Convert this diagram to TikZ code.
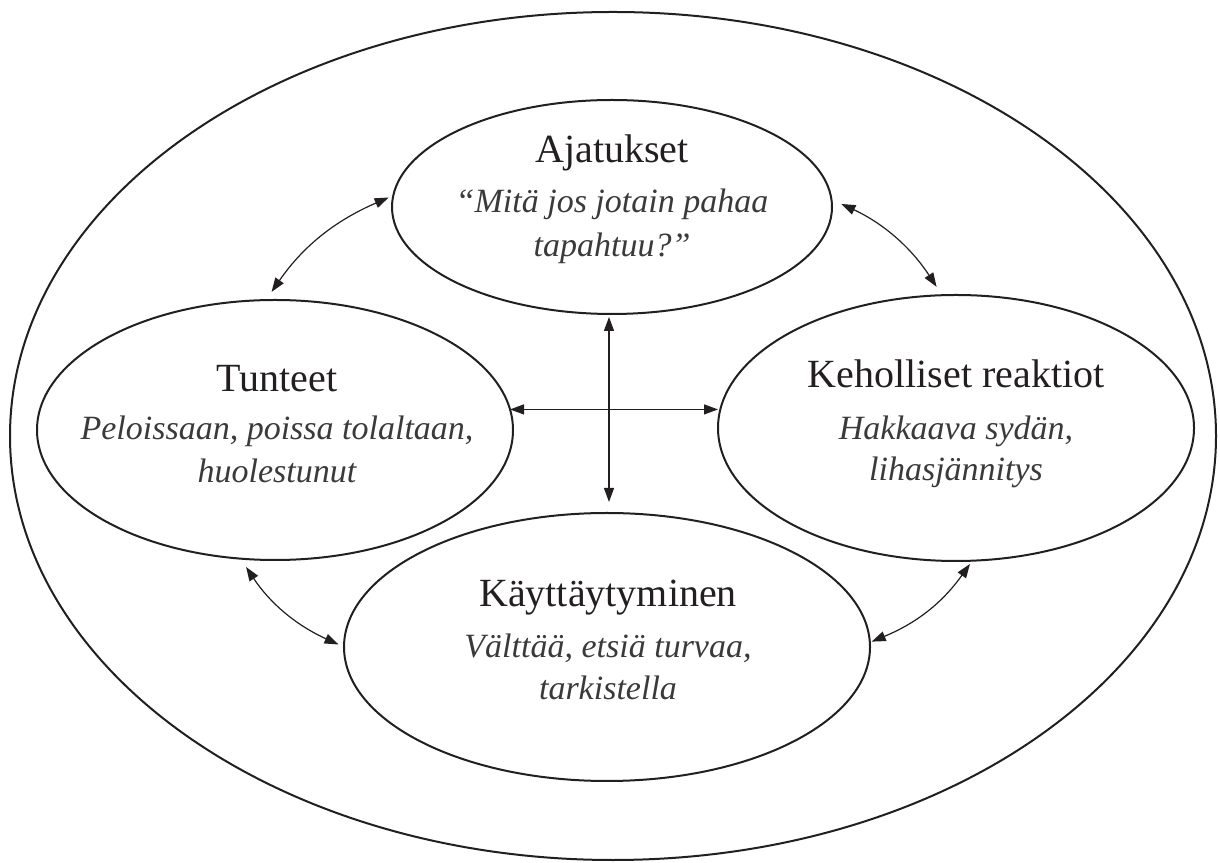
\documentclass[tikz,border=0pt]{standalone}
\usepackage{fontspec}
\setmainfont{Liberation Serif}
\usetikzlibrary{shapes.geometric,arrows.meta}
\definecolor{ink}{HTML}{231F20}
\definecolor{softink}{HTML}{3A3A3A}
\tikzset{
  ring/.style={ellipse, draw=ink, line width=2pt, inner sep=0pt, outer sep=0pt},
  heading/.style={anchor=base, font=\fontsize{40}{46}\selectfont, text=ink},
  note/.style={anchor=base, font=\fontsize{34}{40}\selectfont\itshape, text=softink},
  link/.style={draw=ink, line width=1.2pt,
    {Triangle[length=14pt,width=10pt]}-{Triangle[length=14pt,width=10pt]}},
}
\begin{document}
\begin{tikzpicture}[x=1pt,y=1pt]
\useasboundingbox (0,0) rectangle (1220,862);

% outer boundary and the four areas
\node[ring, minimum width=1206, minimum height=848] (outer) at (613,426) {};
\node[ring, minimum width=440, minimum height=214] (ajat) at (612,655) {};
\node[ring, minimum width=476, minimum height=260] (tunt) at (275,432) {};
\node[ring, minimum width=476, minimum height=266] (keh)  at (956,434) {};
\node[ring, minimum width=526, minimum height=268] (kayt) at (607,215) {};

% texts
\node[heading] (ajat-h) at (612,699) {Ajatukset};
\node[note] (ajat-1) at (612,649) {“Mitä jos jotain pahaa};
\node[note] (ajat-2) at (612,605) {tapahtuu?”};

\node[heading] (tunt-h) at (277,470) {Tunteet};
\node[note] (tunt-1) at (277,422) {Peloissaan, poissa tolaltaan,};
\node[note] (tunt-2) at (277,379) {huolestunut};

\node[heading] (keh-h) at (956,474) {Keholliset reaktiot};
\node[note] (keh-1) at (956,422) {Hakkaava sydän,};
\node[note] (keh-2) at (956,381) {lihasjännitys};

\node[heading] (kayt-h) at (608,255) {Käyttäytyminen};
\node[note] (kayt-1) at (608,204) {Välttää, etsiä turvaa,};
\node[note] (kayt-2) at (608,162) {tarkistella};

% central cross
\coordinate (mid) at (609,453);
\draw[link] (tunt.5) -- (tunt.5 -| keh.west);
\draw[link, shorten <=3pt, shorten >=11pt] (mid |- ajat.south) -- (mid |- kayt.north);

% curved links between neighbouring areas
\draw[link, shorten <=5pt, shorten >=10pt] (ajat.177) to[bend right=16] (tunt.94);
\draw[link, shorten <=11pt, shorten >=10pt] (ajat.2) to[bend left=16] (keh.96);
\draw[link, shorten <=10pt, shorten >=6pt] (tunt.255) to[bend right=16] (kayt.180);
\draw[link, shorten <=4pt, shorten >=2pt] (keh.277) to[bend left=16] (kayt.1);
\end{tikzpicture}
\end{document}
